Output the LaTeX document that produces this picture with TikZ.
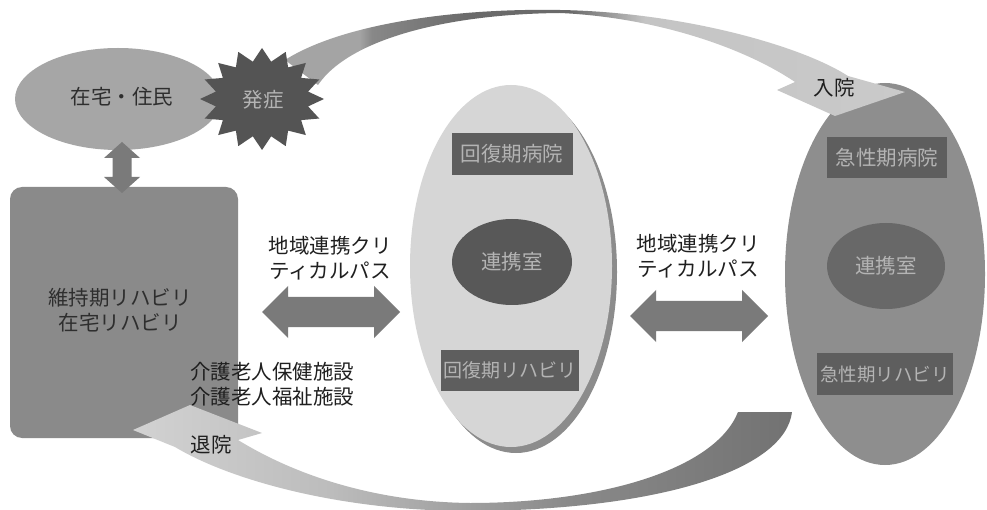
\documentclass[tikz,border=0pt]{standalone}
\usepackage{fontspec}
\setmainfont{Noto Sans CJK JP}
\usetikzlibrary{shapes.geometric}
\definecolor{cHome}{HTML}{A6A6A6}
\definecolor{cStar}{HTML}{545454}
\definecolor{cBox}{HTML}{8A8A8A}
\definecolor{cArrow}{HTML}{7A7A7A}
\definecolor{cMid}{HTML}{D6D6D6}
\definecolor{cMidShadow}{HTML}{8C8C8C}
\definecolor{cRight}{HTML}{8E8E8E}
\definecolor{cInner}{HTML}{5E5E5E}
\definecolor{cRoomL}{HTML}{585858}
\definecolor{cRoomR}{HTML}{686868}
\definecolor{cInText}{HTML}{B4B4B4}
\definecolor{cDarkText}{HTML}{2E2E2E}
\definecolor{tbA}{HTML}{A4A4A4}
\definecolor{tbB}{HTML}{888888}
\definecolor{tbC}{HTML}{6A6A6A}
\definecolor{tbD}{HTML}{C4C4C4}
\definecolor{tbE}{HTML}{CACACA}
\definecolor{bbA}{HTML}{D2D2D2}
\definecolor{bbB}{HTML}{BCBCBC}
\definecolor{bbC}{HTML}{8A8A8A}
\definecolor{bbD}{HTML}{727272}
\pgfdeclarehorizontalshading{topband}{100bp}{color(0bp)=(tbA); color(25bp)=(tbA); color(31bp)=(tbA); color(32bp)=(tbB); color(40bp)=(tbC); color(48bp)=(tbC); color(54bp)=(tbD); color(75bp)=(tbE); color(100bp)=(tbE)}
\pgfdeclarehorizontalshading{bottomband}{100bp}{color(0bp)=(bbA); color(25bp)=(bbA); color(40bp)=(bbB); color(58bp)=(bbC); color(75bp)=(bbD); color(100bp)=(bbD)}
\tikzset{
  txt/.style={font=\fontsize{20.5pt}{25pt}\selectfont, text=black!88, inner sep=0pt},
  boxlabel/.style={rectangle, fill=cInner, inner sep=0pt, text=cInText,
     font=\fontsize{20.5pt}{25pt}\selectfont},
  roomlabel/.style={ellipse, inner sep=0pt, text=cInText,
     font=\fontsize{20.5pt}{25pt}\selectfont},
  bigell/.style={ellipse, inner sep=0pt},
}
\begin{document}
\begin{tikzpicture}[x=1pt,y=-1pt]
\useasboundingbox (0,0) rectangle (987,510);
\fill[white] (0,0) rectangle (987,510);

% home ellipse
\node[bigell, fill=cHome, minimum width=206pt, minimum height=102pt] (home) at (118,99) {};
\node[txt, text=cDarkText] (homet) at (122,97) {在宅・住民};

% left box
\node[rectangle, rounded corners=12pt, fill=cBox, minimum width=228pt, minimum height=251pt, inner sep=0pt] (care) at (124,312.5) {};
\node[txt, text=cDarkText, align=center] (caret) at (120,310) {維持期リハビリ\\在宅リハビリ};

% vertical double arrow home <-> care
\fill[cArrow] (122,142) -- (140,158) -- (131.5,158) -- (131.5,177) -- (140,177) -- (122,193)
  -- (104,177) -- (112.5,177) -- (112.5,158) -- (104,158) -- cycle;

% middle ellipse (recovery)
\node[bigell, fill=cMidShadow, minimum width=202pt, minimum height=362pt] (midsh) at (516,272) {};
\node[bigell, fill=cMid, minimum width=202pt, minimum height=362pt] (mid) at (511,266) {};
\node[boxlabel, minimum width=121pt, minimum height=42pt] (midhosp) at (512,154) {回復期病院};
\node[roomlabel, fill=cRoomL, minimum width=120pt, minimum height=86pt] (midroom) at (512,262) {連携室};
\node[boxlabel, minimum width=138pt, minimum height=41pt, font=\fontsize{19pt}{23pt}\selectfont] (midreh) at (510,370) {回復期リハビリ};

% right ellipse (acute)
\node[bigell, fill=cRight, minimum width=200pt, minimum height=382pt] (acute) at (885,274) {};
\node[boxlabel, minimum width=120pt, minimum height=41pt] (acuhosp) at (887,158) {急性期病院};
\node[roomlabel, fill=cRoomR, minimum width=118pt, minimum height=86pt] (acuroom) at (886,266) {連携室};
\node[boxlabel, minimum width=136pt, minimum height=42pt, font=\fontsize{18.5pt}{23pt}\selectfont] (acureh) at (885,374) {急性期リハビリ};

% top curved arrow (onset -> admission)
\shade[shading=topband] (285,60) .. controls (340,25) and (450,8) .. (560,10)
  .. controls (680,12) and (800,45) .. (848,76) -- (905,92) -- (835,116) -- (777,90)
  -- (795,82) .. controls (740,45) and (650,17) .. (560,13)
  .. controls (450,14) and (350,38) .. (318,85) -- cycle;

% starburst
\begin{scope}[shift={(262,99)}]
\fill[cStar] (0:62 and 51) \foreach \k in {0,...,15} { -- ({\k*22.5+11.25}:47 and 38) -- ({(\k+1)*22.5}:62 and 51) } -- cycle;
\end{scope}
\node[txt, text=cInText] (onset) at (263,100) {発症};
\node[txt] (admit) at (834,88) {入院};

% bottom curved arrow (discharge)
\shade[shading=bottomband] (738,412) -- (792,412) .. controls (785,470) and (660,510) .. (470,511)
  .. controls (340,511) and (230,480) .. (175,447) -- (133,430) -- (190,405) -- (262,433)
  -- (238,440) .. controls (300,478) and (380,502) .. (470,503)
  .. controls (600,503) and (715,470) .. (738,412) -- cycle;
\node[txt] (disch) at (211,445) {退院};

% horizontal double arrows
\fill[cArrow] (262,312) -- (288,286) -- (288,297) -- (374,297) -- (374,286) -- (400,312)
  -- (374,338) -- (374,327) -- (288,327) -- (288,338) -- cycle;
\fill[cArrow] (630,316) -- (656,290) -- (656,301) -- (742,301) -- (742,290) -- (768,316)
  -- (742,342) -- (742,331) -- (656,331) -- (656,342) -- cycle;

\node[txt, align=center] (pathL) at (330,258) {地域連携クリ\\ティカルパス};
\node[txt, align=center] (pathR) at (698,256) {地域連携クリ\\ティカルパス};
\node[txt, align=left, anchor=west] (facil) at (190,384) {介護老人保健施設\\介護老人福祉施設};
\end{tikzpicture}
\end{document}
